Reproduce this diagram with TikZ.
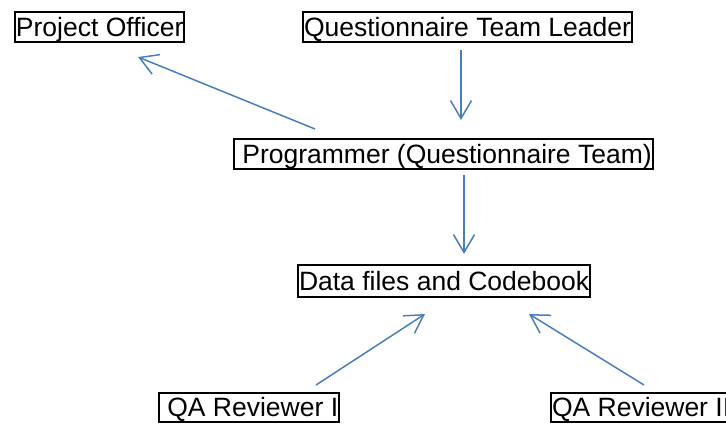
\documentclass[tikz,border=0pt]{standalone}
\usepackage{fontspec}
\setmainfont{Liberation Sans}
\usetikzlibrary{arrows.meta}
\definecolor{arrblue}{HTML}{4A7EBB}
\begin{document}
\begin{tikzpicture}[x=1pt,y=-1pt,
  box/.style={draw=black, line width=2pt, inner xsep=1pt, inner ysep=0pt, outer sep=0pt,
    text height=24pt, text depth=6pt, font=\fontsize{26.5}{30}\selectfont, anchor=base west},
  arr/.style={draw=arrblue, line width=1.5pt, -{Straight Barb[length=18pt,width=21pt]}}]
\useasboundingbox (0,0) rectangle (726,426);
\node[box] (po) at (15,36) {Project Officer};
\node[box] (qtl) at (303,36) {Questionnaire Team Leader};
\node[box] (prog) at (234,163) {\ Programmer (Questionnaire Team)};
\node[box, text height=25pt, text depth=7pt] (data) at (298,290) {Data files and Codebook};
\node[box, text height=23pt] (qa1) at (159,416) {\ QA Reviewer I};
\node[box, text height=23pt] (qa2) at (551,416) {QA Reviewer II};
% connector end points, placed relative to the nodes
\coordinate (progNW) at ([shift={(81,-10)}]prog.north west);
\coordinate (poTip) at ([shift={(123,15)}]po.south west);
\coordinate (qtlS) at ([shift={(158,8)}]qtl.south west);
\coordinate (progTip) at ([shift={(227,-19)}]prog.north west);
\coordinate (progS) at ([shift={(230,6)}]prog.south west);
\coordinate (dataTip) at ([shift={(166,-11)}]data.north west);
\coordinate (qa1N) at ([shift={(157,-8)}]qa1.north west);
\coordinate (dataTipL) at ([shift={(127,17)}]data.south west);
\coordinate (qa2N) at ([shift={(93,-8)}]qa2.north west);
\coordinate (dataTipR) at ([shift={(231,17)}]data.south west);
\draw[arr] (progNW) -- (poTip);
\draw[arr] (qtlS) -- (progTip);
\draw[arr] (progS) -- (dataTip);
\draw[arr] (qa1N) -- (dataTipL);
\draw[arr] (qa2N) -- (dataTipR);
\end{tikzpicture}
\end{document}
